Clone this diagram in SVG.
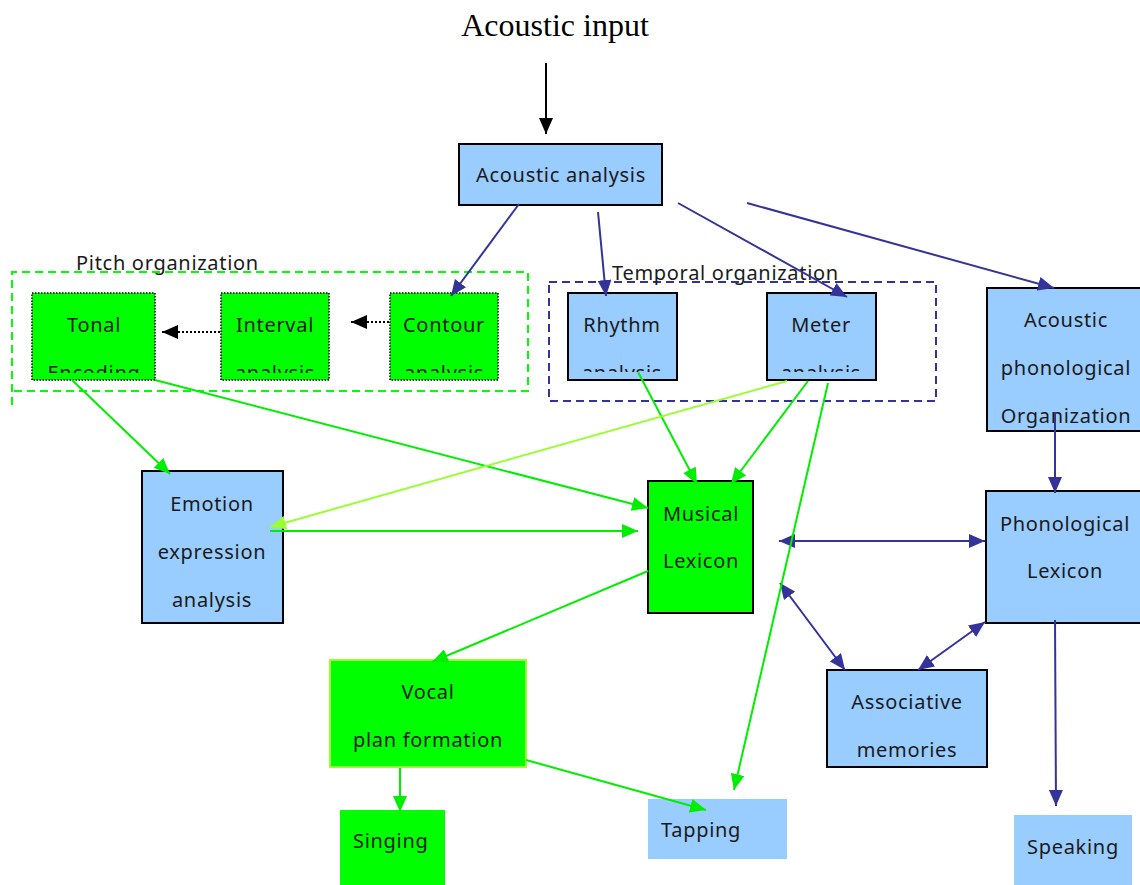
<svg xmlns="http://www.w3.org/2000/svg" width="1140" height="885" viewBox="0 0 1140 885">
<style>
.t{font-family:"Noto Sans","DejaVu Sans",sans-serif;font-size:20px;fill:#1a1a1a;text-anchor:middle;letter-spacing:0.7px}
.tl{font-family:"Noto Sans","DejaVu Sans",sans-serif;font-size:20px;fill:#1a1a1a;letter-spacing:0.7px}
.blue{fill:#99ccff;stroke:#000;stroke-width:2}
.green{fill:#00ff00;stroke:#000;stroke-width:2}
.dot{fill:#00ff00;stroke:#000;stroke-width:1.5;stroke-dasharray:1.5 1.5}
.nv{stroke:#333399;stroke-width:2;fill:none}
.gr{stroke:#00ee00;stroke-width:2;fill:none}
.lg{stroke:#99ff33;stroke-width:2;fill:none}
</style>
<defs>
<marker id="aN" markerUnits="userSpaceOnUse" markerWidth="18" markerHeight="14" refX="16" refY="7" orient="auto-start-reverse"><path d="M0,0 L16,7 L0,14 z" fill="#333399"/></marker>
<marker id="aG" markerUnits="userSpaceOnUse" markerWidth="18" markerHeight="14" refX="16" refY="7" orient="auto"><path d="M0,0 L16,7 L0,14 z" fill="#00ee00"/></marker>
<marker id="aL" markerUnits="userSpaceOnUse" markerWidth="18" markerHeight="14" refX="16" refY="7" orient="auto"><path d="M0,0 L16,7 L0,14 z" fill="#99ff33"/></marker>
<marker id="aK" markerUnits="userSpaceOnUse" markerWidth="18" markerHeight="14" refX="16" refY="7" orient="auto"><path d="M0,0 L16,7 L0,14 z" fill="#000"/></marker>
<clipPath id="cT"><rect x="32" y="293" width="124" height="80"/></clipPath>
<clipPath id="cI"><rect x="221" y="293" width="109" height="80"/></clipPath>
<clipPath id="cC"><rect x="390" y="293" width="109" height="80"/></clipPath>
<clipPath id="cR"><rect x="568" y="293" width="110" height="79"/></clipPath>
<clipPath id="cM"><rect x="767" y="293" width="110" height="79"/></clipPath>
</defs>
<rect width="1140" height="885" fill="#fff"/>

<text x="555" y="36" font-family="Liberation Serif,serif" font-size="32" text-anchor="middle" fill="#000">Acoustic input</text>

<g id="pitch-organization">
<path d="M12,405 L12,272 L528,272 L528,391 L12,391" fill="none" stroke="#00ff00" stroke-width="2" stroke-dasharray="8 5"/>
<text class="tl" x="76" y="270" font-size="19">Pitch organization</text>
</g>
<g id="temporal-organization">
<rect x="549" y="282" width="387" height="119" fill="none" stroke="#333399" stroke-width="2" stroke-dasharray="8 5"/>
<text class="tl" x="612" y="280" font-size="19">Temporal organization</text>
</g>

<g id="acoustic-analysis"><rect class="blue" x="459" y="144" width="203" height="61"/><text class="t" x="561" y="182">Acoustic analysis</text></g>

<g id="tonal-encoding"><rect class="dot" x="32" y="293" width="123" height="87"/><g clip-path="url(#cT)"><text class="t" x="94" y="332">Tonal</text><text class="t" x="94" y="380">Encoding</text></g></g>
<g id="interval-analysis"><rect class="dot" x="221" y="293" width="108" height="87"/><g clip-path="url(#cI)"><text class="t" x="275" y="332">Interval</text><text class="t" x="275" y="380">analysis</text></g></g>
<g id="contour-analysis"><rect class="dot" x="390" y="293" width="108" height="87"/><g clip-path="url(#cC)"><text class="t" x="444" y="332">Contour</text><text class="t" x="444" y="380">analysis</text></g></g>
<g id="rhythm-analysis"><rect class="blue" x="568" y="293" width="109" height="87"/><g clip-path="url(#cR)"><text class="t" x="622" y="332">Rhythm</text><text class="t" x="622" y="380">analysis</text></g></g>
<g id="meter-analysis"><rect class="blue" x="767" y="293" width="109" height="87"/><g clip-path="url(#cM)"><text class="t" x="821" y="332">Meter</text><text class="t" x="821" y="380">analysis</text></g></g>

<g id="acoustic-phonological-organization"><rect class="blue" x="987" y="288" width="160" height="143"/><text class="t" x="1066" y="327">Acoustic</text><text class="t" x="1066" y="375">phonological</text><text class="t" x="1066" y="423">Organization</text></g>

<g id="emotion-expression-analysis"><rect class="blue" x="142" y="471" width="141" height="152"/><text class="t" x="212" y="511">Emotion</text><text class="t" x="212" y="559">expression</text><text class="t" x="212" y="607">analysis</text></g>

<g id="musical-lexicon"><rect class="green" x="648" y="481" width="105" height="132"/><text class="t" x="701" y="521">Musical</text><text class="t" x="701" y="568">Lexicon</text></g>

<g id="phonological-lexicon"><rect class="blue" x="986" y="491" width="160" height="132"/><text class="t" x="1065" y="531">Phonological</text><text class="t" x="1065" y="578">Lexicon</text></g>

<g id="associative-memories"><rect class="blue" x="827" y="670" width="160" height="97"/><text class="t" x="907" y="709">Associative</text><text class="t" x="907" y="757">memories</text></g>

<g id="vocal-plan-formation"><rect x="330" y="660" width="196" height="107" fill="#00ff00" stroke="#99ff33" stroke-width="2"/><text class="t" x="428" y="699">Vocal</text><text class="t" x="428" y="747">plan formation</text></g>

<g id="singing"><rect x="340" y="810" width="105" height="75" fill="#00ff00"/><text class="tl" x="353" y="848">Singing</text></g>
<g id="tapping"><rect x="648" y="799" width="139" height="60" fill="#99ccff"/><text class="tl" x="661" y="837">Tapping</text></g>
<g id="speaking"><rect x="1014" y="815" width="118" height="70" fill="#99ccff"/><text class="tl" x="1027" y="854">Speaking</text></g>

<g id="connectors">
<line x1="546" y1="63" x2="546" y2="134" stroke="#000" stroke-width="2" marker-end="url(#aK)"/>
<line x1="220" y1="332" x2="162" y2="332" stroke="#000" stroke-width="2" stroke-dasharray="2 2" marker-end="url(#aK)"/>
<line x1="389" y1="322" x2="351" y2="322" stroke="#000" stroke-width="2" stroke-dasharray="2 2" marker-end="url(#aK)"/>

<line class="nv" x1="519" y1="204" x2="451" y2="296" marker-end="url(#aN)"/>
<line class="nv" x1="598" y1="212" x2="606" y2="296" marker-end="url(#aN)"/>
<line class="nv" x1="678" y1="203" x2="847" y2="297" marker-end="url(#aN)"/>
<line class="nv" x1="747" y1="203" x2="1054" y2="288" marker-end="url(#aN)"/>
<line class="nv" x1="1055" y1="412" x2="1055" y2="493" marker-end="url(#aN)"/>
<line class="nv" x1="1055" y1="620" x2="1056" y2="806" marker-end="url(#aN)"/>
<line class="nv" x1="779" y1="541" x2="985" y2="541" marker-start="url(#aN)" marker-end="url(#aN)"/>
<line class="nv" x1="780" y1="583" x2="845" y2="670" marker-start="url(#aN)" marker-end="url(#aN)"/>
<line class="nv" x1="918" y1="670" x2="985" y2="622" marker-start="url(#aN)" marker-end="url(#aN)"/>

<line class="gr" x1="72" y1="380" x2="170" y2="474" marker-end="url(#aG)"/>
<line class="gr" x1="155" y1="380" x2="648" y2="508" marker-end="url(#aG)"/>
<line class="gr" x1="638" y1="372" x2="697" y2="484" marker-end="url(#aG)"/>
<line class="gr" x1="808" y1="381" x2="731" y2="484" marker-end="url(#aG)"/>
<line class="gr" x1="828" y1="383" x2="734" y2="790" marker-end="url(#aG)"/>
<line class="lg" x1="787" y1="381" x2="270" y2="527" marker-end="url(#aL)"/>
<line class="gr" x1="270" y1="531" x2="638" y2="531" marker-end="url(#aG)"/>
<line class="gr" x1="648" y1="571" x2="432" y2="662" marker-end="url(#aG)"/>
<line class="gr" x1="400" y1="768" x2="400" y2="812" marker-end="url(#aG)"/>
<line class="gr" x1="526" y1="760" x2="706" y2="810" marker-end="url(#aG)"/>
</g>
</svg>
